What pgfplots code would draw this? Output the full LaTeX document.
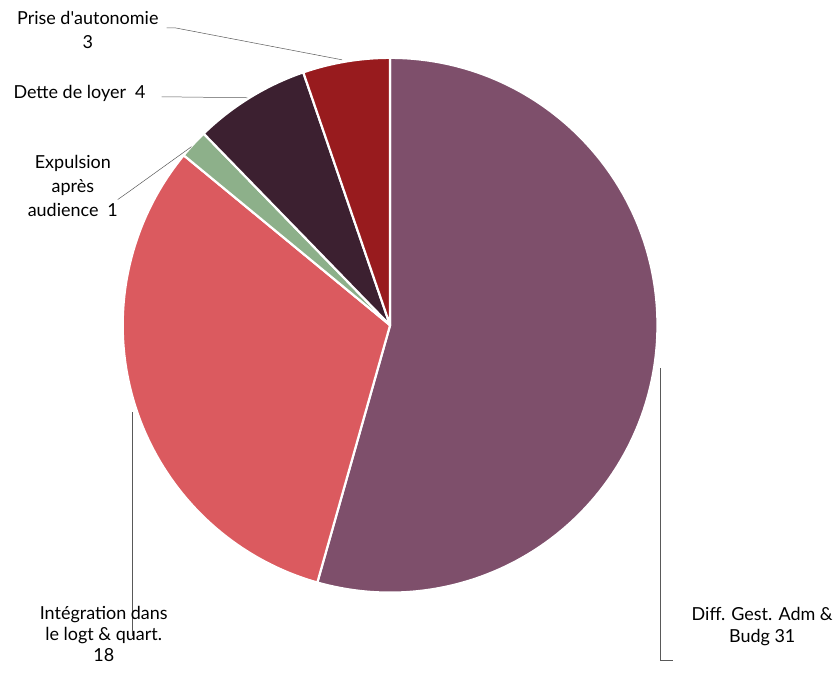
\documentclass[border=0pt]{standalone}
\usepackage{fontspec}
\setmainfont{Lato}
\usepackage{pgfplots}
\usepackage{pgfplotstable}
\pgfplotsset{compat=1.18}
\definecolor{cdiff}{HTML}{7E4F6B}
\definecolor{cint}{HTML}{DB5A5F}
\definecolor{cexp}{HTML}{8DB08A}
\definecolor{cdet}{HTML}{3C2030}
\definecolor{cpri}{HTML}{981B1E}
\pgfplotstableread{
label value color
Diff 31 cdiff
Integ 18 cint
Expul 1 cexp
Dette 4 cdet
Prise 3 cpri
}\piedata
\begin{document}
\begin{tikzpicture}
\begin{axis}[width=836pt,height=675pt,scale only axis,
  xmin=0,xmax=836,ymin=0,ymax=675,axis lines=none,clip=false]
\addplot[draw=none] coordinates {(0,0) (836,675)};
\pgfplotstablegetrowsof{\piedata}
\pgfmathtruncatemacro{\N}{\pgfplotsretval-1}
\def\total{0}
\pgfplotsforeachungrouped \i in {0,...,\N}{%
  \pgfplotstablegetelem{\i}{value}\of{\piedata}%
  \pgfmathsetmacro{\total}{\total+\pgfplotsretval}%
}
\def\startang{90}
\pgfplotsforeachungrouped \i in {0,...,\N}{%
  \pgfplotstablegetelem{\i}{value}\of{\piedata}\let\v\pgfplotsretval
  \pgfplotstablegetelem{\i}{color}\of{\piedata}\let\c\pgfplotsretval
  \pgfmathsetmacro{\endang}{\startang-360*\v/\total}%
  \edef\temp{\noexpand\fill[\c, draw=white, line width=2.2pt, line join=round]
    (axis cs:391,349) -- ++(\startang:268pt) arc[start angle=\startang, end angle=\endang, radius=268pt] -- cycle;}%
  \temp
  \let\startang\endang
}
% leader lines
\draw[gray!70!black, line width=0.5pt] (axis cs:167,647) -- (axis cs:176,647) -- (axis cs:343,615);
\draw[gray!70!black, line width=0.5pt] (axis cs:162,578) -- (axis cs:248,577);
\draw[gray!70!black, line width=0.5pt] (axis cs:118,475) -- (axis cs:128,482) -- (axis cs:192,528);
\draw[gray!70!black, line width=0.5pt] (axis cs:133,262) -- (axis cs:133,38);
\draw[gray!70!black, line width=0.5pt] (axis cs:662,306) -- (axis cs:662,13) -- (axis cs:675,13);
% labels
\node[align=center, font=\fontsize{18}{24}\selectfont] at (axis cs:88,645) {Prise d\textquotesingle autonomie\\3};
\node[anchor=west, font=\fontsize{18}{24}\selectfont] at (axis cs:10,581) {Dette de loyer\enspace 4};
\node[align=center, font=\fontsize{18}{24}\selectfont] at (axis cs:73,489) {Expulsion\\après\\audience\enspace 1};
\node[align=center, font=\fontsize{18}{21}\selectfont] at (axis cs:104,40) {Intégration dans\\le logt \& quart.\\18};
\node[align=center, font=\fontsize{18}{23}\selectfont] at (axis cs:764,47) {Diff. Gest. Adm \&\\Budg 31};
\end{axis}
\end{tikzpicture}
\end{document}
